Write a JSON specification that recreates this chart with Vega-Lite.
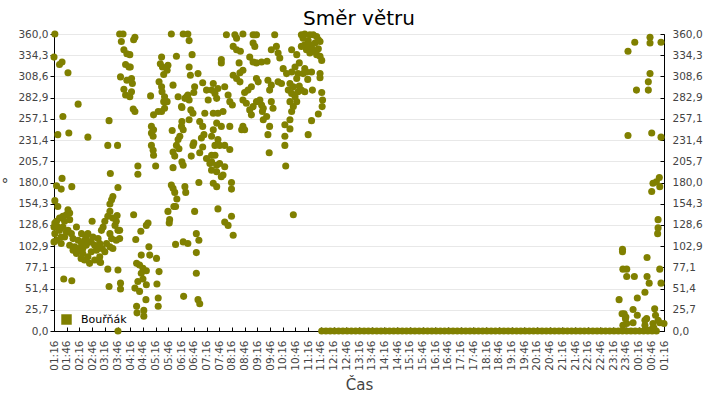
{
"$schema": "https://vega.github.io/schema/vega-lite/v6.json",
"width": 610, "height": 297,
"autosize": "none",
"padding": {"left": 54, "top": 34, "right": 56, "bottom": 69},
"background": "white",
"title": {"text": "Směr větru", "font": "DejaVu Sans", "fontSize": 20, "fontWeight": "normal", "color": "#000", "anchor": "middle", "frame": "group", "offset": 0},
"config": {"view": {"stroke": "#000", "strokeWidth": 1}, "axis": {"labelOverlap": false}},
"data": {"values": [
{"t":"2024-06-01T01:16","v":332},{"t":"2024-06-01T01:18","v":360},{"t":"2024-06-01T01:29","v":323},{"t":"2024-06-01T01:35","v":326},{"t":"2024-06-01T01:49","v":313},{"t":"2024-06-01T02:13","v":275},{"t":"2024-06-01T01:37","v":260},{"t":"2024-06-01T01:25","v":238},{"t":"2024-06-01T01:51","v":240},{"t":"2024-06-01T02:36","v":235},{"t":"2024-06-01T03:26","v":255},{"t":"2024-06-01T03:23","v":225},{"t":"2024-06-01T03:46","v":225},{"t":"2024-06-01T01:35","v":185},{"t":"2024-06-01T01:22","v":176},{"t":"2024-06-01T01:33","v":172},{"t":"2024-06-01T01:58","v":175},{"t":"2024-06-01T03:29","v":191},{"t":"2024-06-01T03:47","v":174},{"t":"2024-06-01T03:35","v":163},{"t":"2024-06-01T03:32","v":159},{"t":"2024-06-01T03:28","v":154},{"t":"2024-06-01T01:18","v":158},{"t":"2024-06-01T01:25","v":151},{"t":"2024-06-01T01:39","v":63},{"t":"2024-06-01T01:58","v":61},{"t":"2024-06-01T03:23","v":75},{"t":"2024-06-01T03:47","v":74},{"t":"2024-06-01T03:26","v":54},{"t":"2024-06-01T03:53","v":58},{"t":"2024-06-01T03:53","v":51},{"t":"2024-06-01T03:47","v":0},{"t":"2024-06-01T03:06","v":83},{"t":"2024-06-01T02:46","v":133},{"t":"2024-06-01T03:51","v":360},{"t":"2024-06-01T03:59","v":360},{"t":"2024-06-01T03:55","v":351},{"t":"2024-06-01T04:01","v":341},{"t":"2024-06-01T04:08","v":336},{"t":"2024-06-01T04:05","v":323},{"t":"2024-06-01T04:13","v":320},{"t":"2024-06-01T03:53","v":308},{"t":"2024-06-01T04:08","v":304},{"t":"2024-06-01T04:01","v":293},{"t":"2024-06-01T04:05","v":286},
{"t":"2024-06-01T01:49","v":147},{"t":"2024-06-01T01:53","v":143},{"t":"2024-06-01T01:45","v":141},{"t":"2024-06-01T01:37","v":139},{"t":"2024-06-01T01:29","v":137},{"t":"2024-06-01T01:22","v":133},{"t":"2024-06-01T01:18","v":131},{"t":"2024-06-01T01:25","v":126},{"t":"2024-06-01T01:41","v":133},{"t":"2024-06-01T01:53","v":135},{"t":"2024-06-01T01:37","v":126},{"t":"2024-06-01T01:29","v":122},{"t":"2024-06-01T01:18","v":118},{"t":"2024-06-01T01:22","v":110},{"t":"2024-06-01T01:33","v":106},{"t":"2024-06-01T01:41","v":114},{"t":"2024-06-01T01:49","v":122},{"t":"2024-06-01T01:57","v":118},{"t":"2024-06-01T02:01","v":112},{"t":"2024-06-01T02:09","v":126},{"t":"2024-06-01T02:13","v":110},{"t":"2024-06-01T02:21","v":106},{"t":"2024-06-01T02:05","v":102},{"t":"2024-06-01T02:17","v":98},{"t":"2024-06-01T02:24","v":100},{"t":"2024-06-01T02:32","v":104},{"t":"2024-06-01T02:40","v":108},{"t":"2024-06-01T02:36","v":118},{"t":"2024-06-01T02:48","v":114},{"t":"2024-06-01T03:00","v":112},{"t":"2024-06-01T03:04","v":106},{"t":"2024-06-01T02:56","v":98},{"t":"2024-06-01T02:44","v":96},{"t":"2024-06-01T02:36","v":90},{"t":"2024-06-01T02:28","v":86},{"t":"2024-06-01T02:40","v":82},{"t":"2024-06-01T03:08","v":122},{"t":"2024-06-01T03:12","v":126},{"t":"2024-06-01T03:16","v":133},{"t":"2024-06-01T03:23","v":139},{"t":"2024-06-01T03:28","v":118},{"t":"2024-06-01T03:32","v":112},{"t":"2024-06-01T03:20","v":106},{"t":"2024-06-01T03:28","v":102},{"t":"2024-06-01T03:35","v":100},{"t":"2024-06-01T03:43","v":110},{"t":"2024-06-01T03:47","v":122},{"t":"2024-06-01T03:51","v":112},{"t":"2024-06-01T03:16","v":96},{"t":"2024-06-01T03:04","v":90},{"t":"2024-06-01T02:52","v":86},{"t":"2024-06-01T02:24","v":94},{"t":"2024-06-01T02:09","v":94},{"t":"2024-06-01T02:01","v":98},{"t":"2024-06-01T01:53","v":104},{"t":"2024-06-01T01:33","v":114},{"t":"2024-06-01T01:16","v":126},{"t":"2024-06-01T01:16","v":108},{"t":"2024-06-01T02:21","v":118},{"t":"2024-06-01T02:32","v":114},{"t":"2024-06-01T02:13","v":100},{"t":"2024-06-01T02:28","v":110},{"t":"2024-06-01T02:52","v":104},{"t":"2024-06-01T03:00","v":100},{"t":"2024-06-01T02:44","v":108},{"t":"2024-06-01T02:20","v":88},{"t":"2024-06-01T03:10","v":100},{"t":"2024-06-01T03:40","v":128},{"t":"2024-06-01T03:45","v":140},{"t":"2024-06-01T01:45","v":120},{"t":"2024-06-01T03:28","v":145},{"t":"2024-06-01T03:35","v":137},{"t":"2024-06-01T03:43","v":133},{"t":"2024-06-01T03:51","v":122},{"t":"2024-06-01T03:04","v":84},
{"t":"2024-06-01T04:27","v":356},{"t":"2024-06-01T04:24","v":353},{"t":"2024-06-01T05:53","v":360},{"t":"2024-06-01T06:21","v":360},{"t":"2024-06-01T06:32","v":360},{"t":"2024-06-01T06:35","v":352},{"t":"2024-06-01T04:15","v":335},{"t":"2024-06-01T04:16","v":320},{"t":"2024-06-01T04:19","v":306},{"t":"2024-06-01T04:21","v":300},{"t":"2024-06-01T04:19","v":290},{"t":"2024-06-01T04:15","v":284},{"t":"2024-06-01T04:23","v":269},{"t":"2024-06-01T04:27","v":266},{"t":"2024-06-01T05:30","v":332},{"t":"2024-06-01T05:27","v":324},{"t":"2024-06-01T05:32","v":320},{"t":"2024-06-01T05:45","v":322},{"t":"2024-06-01T05:43","v":316},{"t":"2024-06-01T05:35","v":311},{"t":"2024-06-01T05:24","v":302},{"t":"2024-06-01T05:30","v":296},{"t":"2024-06-01T05:31","v":290},{"t":"2024-06-01T05:37","v":284},{"t":"2024-06-01T05:35","v":278},{"t":"2024-06-01T05:43","v":278},{"t":"2024-06-01T05:37","v":270},{"t":"2024-06-01T05:30","v":266},{"t":"2024-06-01T05:22","v":266},{"t":"2024-06-01T05:11","v":262},{"t":"2024-06-01T05:04","v":285},{"t":"2024-06-01T06:05","v":333},{"t":"2024-06-01T06:42","v":335},{"t":"2024-06-01T06:35","v":320},{"t":"2024-06-01T06:38","v":310},{"t":"2024-06-01T06:56","v":312},{"t":"2024-06-01T07:07","v":301},{"t":"2024-06-01T06:48","v":296},{"t":"2024-06-01T06:46","v":289},{"t":"2024-06-01T05:57","v":298},{"t":"2024-06-01T06:09","v":284},{"t":"2024-06-01T06:29","v":284},{"t":"2024-06-01T06:35","v":280},{"t":"2024-06-01T06:25","v":282},{"t":"2024-06-01T06:32","v":286},{"t":"2024-06-01T06:18","v":271},{"t":"2024-06-01T06:39","v":268},{"t":"2024-06-01T06:44","v":264},{"t":"2024-06-01T06:35","v":256},{"t":"2024-06-01T07:16","v":292},{"t":"2024-06-01T07:20","v":280},{"t":"2024-06-01T07:12","v":264},{"t":"2024-06-01T07:00","v":254},{"t":"2024-06-01T07:07","v":248},{"t":"2024-06-01T07:10","v":238},{"t":"2024-06-01T07:04","v":234},{"t":"2024-06-01T05:06","v":248},{"t":"2024-06-01T05:11","v":244},{"t":"2024-06-01T05:10","v":236},{"t":"2024-06-01T05:06","v":240},{"t":"2024-06-01T05:55","v":243},{"t":"2024-06-01T06:17","v":248},{"t":"2024-06-01T06:21","v":244},{"t":"2024-06-01T06:13","v":236},{"t":"2024-06-01T06:17","v":272},{"t":"2024-06-01T06:18","v":254},{"t":"2024-06-01T06:46","v":228},{"t":"2024-06-01T06:44","v":225},{"t":"2024-06-01T07:07","v":223},{"t":"2024-06-01T06:09","v":232},{"t":"2024-06-01T06:05","v":225},{"t":"2024-06-01T06:11","v":221},{"t":"2024-06-01T05:57","v":217},{"t":"2024-06-01T06:01","v":212},{"t":"2024-06-01T05:06","v":225},{"t":"2024-06-01T05:10","v":219},{"t":"2024-06-01T05:11","v":213},{"t":"2024-06-01T06:40","v":212},{"t":"2024-06-01T06:18","v":205},{"t":"2024-06-01T06:21","v":201},{"t":"2024-06-01T07:00","v":216},{"t":"2024-06-01T07:16","v":209},{"t":"2024-06-01T07:24","v":203},{"t":"2024-06-01T04:34","v":200},{"t":"2024-06-01T04:34","v":190},{"t":"2024-06-01T05:16","v":200},{"t":"2024-06-01T05:57","v":198},{"t":"2024-06-01T06:58","v":180},{"t":"2024-06-01T05:53","v":177},{"t":"2024-06-01T05:57","v":173},{"t":"2024-06-01T06:01","v":168},{"t":"2024-06-01T06:25","v":175},{"t":"2024-06-01T06:27","v":168},{"t":"2024-06-01T06:06","v":160},{"t":"2024-06-01T05:59","v":151},{"t":"2024-06-01T06:03","v":151},{"t":"2024-06-01T05:45","v":145},{"t":"2024-06-01T05:49","v":135},{"t":"2024-06-01T05:48","v":131},{"t":"2024-06-01T06:48","v":145},{"t":"2024-06-01T04:24","v":141},{"t":"2024-06-01T04:58","v":131},{"t":"2024-06-01T04:54","v":128},{"t":"2024-06-01T04:41","v":121},{"t":"2024-06-01T04:29","v":111},{"t":"2024-06-01T06:03","v":105},{"t":"2024-06-01T06:21","v":108},{"t":"2024-06-01T06:32","v":106},{"t":"2024-06-01T06:52","v":118},{"t":"2024-06-01T06:58","v":110},{"t":"2024-06-01T05:00","v":102},{"t":"2024-06-01T05:02","v":92},{"t":"2024-06-01T05:18","v":88},{"t":"2024-06-01T04:42","v":92},{"t":"2024-06-01T04:31","v":82},{"t":"2024-06-01T04:38","v":80},{"t":"2024-06-01T04:46","v":76},{"t":"2024-06-01T04:54","v":73},{"t":"2024-06-01T04:42","v":70},{"t":"2024-06-01T04:46","v":63},{"t":"2024-06-01T04:34","v":60},{"t":"2024-06-01T04:54","v":56},{"t":"2024-06-01T04:27","v":52},{"t":"2024-06-01T04:38","v":48},{"t":"2024-06-01T05:24","v":72},{"t":"2024-06-01T05:19","v":57},{"t":"2024-06-01T06:52","v":95},{"t":"2024-06-01T06:52","v":70},{"t":"2024-06-01T06:56","v":38},{"t":"2024-06-01T07:00","v":33},{"t":"2024-06-01T06:22","v":42},{"t":"2024-06-01T05:22","v":40},{"t":"2024-06-01T05:22","v":30},{"t":"2024-06-01T04:53","v":38},{"t":"2024-06-01T04:31","v":30},{"t":"2024-06-01T04:32","v":22},{"t":"2024-06-01T04:48","v":25},{"t":"2024-06-01T04:48","v":18},
{"t":"2024-06-01T08:03","v":359},{"t":"2024-06-01T08:23","v":359},{"t":"2024-06-01T08:42","v":360},{"t":"2024-06-01T09:06","v":359},{"t":"2024-06-01T09:14","v":359},{"t":"2024-06-01T09:57","v":359},{"t":"2024-06-01T08:27","v":355},{"t":"2024-06-01T08:19","v":345},{"t":"2024-06-01T08:27","v":341},{"t":"2024-06-01T08:36","v":339},{"t":"2024-06-01T09:06","v":349},{"t":"2024-06-01T09:10","v":345},{"t":"2024-06-01T07:51","v":329},{"t":"2024-06-01T07:51","v":325},{"t":"2024-06-01T08:33","v":325},{"t":"2024-06-01T08:58","v":332},{"t":"2024-06-01T09:06","v":326},{"t":"2024-06-01T09:14","v":325},{"t":"2024-06-01T09:26","v":326},{"t":"2024-06-01T09:39","v":327},{"t":"2024-06-01T09:49","v":341},{"t":"2024-06-01T10:01","v":345},{"t":"2024-06-01T10:05","v":337},{"t":"2024-06-01T10:09","v":331},{"t":"2024-06-01T10:17","v":318},{"t":"2024-06-01T10:25","v":312},{"t":"2024-06-01T10:29","v":292},{"t":"2024-06-01T10:13","v":300},{"t":"2024-06-01T10:05","v":302},{"t":"2024-06-01T08:42","v":316},{"t":"2024-06-01T08:35","v":313},{"t":"2024-06-01T08:19","v":310},{"t":"2024-06-01T08:27","v":306},{"t":"2024-06-01T08:35","v":302},{"t":"2024-06-01T09:14","v":306},{"t":"2024-06-01T09:18","v":302},{"t":"2024-06-01T09:02","v":296},{"t":"2024-06-01T08:54","v":292},{"t":"2024-06-01T08:46","v":289},{"t":"2024-06-01T09:41","v":304},{"t":"2024-06-01T09:49","v":298},{"t":"2024-06-01T09:45","v":292},{"t":"2024-06-01T07:32","v":300},{"t":"2024-06-01T07:28","v":292},{"t":"2024-06-01T07:36","v":288},{"t":"2024-06-01T07:40","v":282},{"t":"2024-06-01T07:43","v":294},{"t":"2024-06-01T07:59","v":296},{"t":"2024-06-01T08:07","v":286},{"t":"2024-06-01T08:11","v":278},{"t":"2024-06-01T08:17","v":274},{"t":"2024-06-01T08:42","v":280},{"t":"2024-06-01T08:50","v":276},{"t":"2024-06-01T08:58","v":268},{"t":"2024-06-01T09:02","v":262},{"t":"2024-06-01T09:06","v":272},{"t":"2024-06-01T09:14","v":278},{"t":"2024-06-01T09:22","v":280},{"t":"2024-06-01T09:26","v":274},{"t":"2024-06-01T09:28","v":266},{"t":"2024-06-01T09:30","v":270},{"t":"2024-06-01T09:38","v":260},{"t":"2024-06-01T09:49","v":278},{"t":"2024-06-01T09:53","v":270},{"t":"2024-06-01T09:30","v":256},{"t":"2024-06-01T09:45","v":248},{"t":"2024-06-01T08:42","v":248},{"t":"2024-06-01T08:39","v":244},{"t":"2024-06-01T08:46","v":244},{"t":"2024-06-01T09:41","v":238},{"t":"2024-06-01T09:44","v":216},{"t":"2024-06-01T07:32","v":264},{"t":"2024-06-01T07:43","v":264},{"t":"2024-06-01T07:55","v":266},{"t":"2024-06-01T07:40","v":252},{"t":"2024-06-01T07:51","v":248},{"t":"2024-06-01T08:11","v":248},{"t":"2024-06-01T07:32","v":244},{"t":"2024-06-01T07:28","v":236},{"t":"2024-06-01T07:43","v":232},{"t":"2024-06-01T07:36","v":225},{"t":"2024-06-01T07:47","v":225},{"t":"2024-06-01T07:59","v":225},{"t":"2024-06-01T08:11","v":220},{"t":"2024-06-01T07:28","v":213},{"t":"2024-06-01T07:36","v":213},{"t":"2024-06-01T07:28","v":205},{"t":"2024-06-01T07:40","v":201},{"t":"2024-06-01T07:47","v":203},{"t":"2024-06-01T07:59","v":199},{"t":"2024-06-01T07:55","v":189},{"t":"2024-06-01T07:28","v":195},{"t":"2024-06-01T07:40","v":193},{"t":"2024-06-01T07:51","v":187},{"t":"2024-06-01T07:32","v":179},{"t":"2024-06-01T07:40","v":175},{"t":"2024-06-01T08:15","v":180},{"t":"2024-06-01T08:15","v":172},{"t":"2024-06-01T07:43","v":148},{"t":"2024-06-01T07:59","v":132},{"t":"2024-06-01T08:07","v":128},{"t":"2024-06-01T08:15","v":139},{"t":"2024-06-01T08:19","v":116},{"t":"2024-06-01T10:21","v":250},{"t":"2024-06-01T10:21","v":236},{"t":"2024-06-01T10:21","v":225},{"t":"2024-06-01T10:23","v":200},
{"t":"2024-06-01T11:00","v":359},{"t":"2024-06-01T11:08","v":360},{"t":"2024-06-01T11:20","v":359},{"t":"2024-06-01T11:28","v":359},{"t":"2024-06-01T11:36","v":357},{"t":"2024-06-01T11:40","v":353},{"t":"2024-06-01T11:32","v":349},{"t":"2024-06-01T11:20","v":347},{"t":"2024-06-01T11:08","v":347},{"t":"2024-06-01T11:00","v":345},{"t":"2024-06-01T11:44","v":351},{"t":"2024-06-01T11:28","v":339},{"t":"2024-06-01T11:36","v":335},{"t":"2024-06-01T11:44","v":333},{"t":"2024-06-01T11:48","v":328},{"t":"2024-06-01T11:20","v":337},{"t":"2024-06-01T10:37","v":341},{"t":"2024-06-01T10:49","v":335},{"t":"2024-06-01T10:55","v":325},{"t":"2024-06-01T11:08","v":318},{"t":"2024-06-01T11:12","v":314},{"t":"2024-06-01T11:24","v":314},{"t":"2024-06-01T11:04","v":312},{"t":"2024-06-01T10:37","v":314},{"t":"2024-06-01T10:52","v":312},{"t":"2024-06-01T10:49","v":306},{"t":"2024-06-01T11:15","v":305},{"t":"2024-06-01T11:44","v":312},{"t":"2024-06-01T11:44","v":307},{"t":"2024-06-01T10:33","v":300},{"t":"2024-06-01T10:41","v":296},{"t":"2024-06-01T10:37","v":288},{"t":"2024-06-01T10:45","v":284},{"t":"2024-06-01T10:52","v":290},{"t":"2024-06-01T11:00","v":292},{"t":"2024-06-01T11:08","v":290},{"t":"2024-06-01T10:49","v":278},{"t":"2024-06-01T10:41","v":272},{"t":"2024-06-01T10:37","v":266},{"t":"2024-06-01T10:33","v":278},{"t":"2024-06-01T11:26","v":292},{"t":"2024-06-01T11:48","v":289},{"t":"2024-06-01T11:50","v":280},{"t":"2024-06-01T11:49","v":272},{"t":"2024-06-01T11:40","v":263},{"t":"2024-06-01T10:33","v":256},{"t":"2024-06-01T10:33","v":245},{"t":"2024-06-01T11:24","v":255},{"t":"2024-06-01T11:16","v":238},{"t":"2024-06-01T10:41","v":141},{"t":"2024-06-01T11:04","v":355},{"t":"2024-06-01T11:16","v":352},{"t":"2024-06-01T11:24","v":344},{"t":"2024-06-01T11:12","v":341},{"t":"2024-06-01T11:40","v":342},{"t":"2024-06-01T10:45","v":320},{"t":"2024-06-01T10:55","v":297},
{"t":"2024-06-01T23:51","v":339},{"t":"2024-06-02T00:43","v":356},{"t":"2024-06-02T00:43","v":349},{"t":"2024-06-02T00:07","v":350},{"t":"2024-06-02T01:09","v":350},{"t":"2024-06-02T00:43","v":312},{"t":"2024-06-02T00:39","v":302},{"t":"2024-06-02T00:11","v":292},{"t":"2024-06-02T00:39","v":292},{"t":"2024-06-01T23:51","v":237},{"t":"2024-06-02T00:47","v":240},{"t":"2024-06-02T01:09","v":235},{"t":"2024-06-02T01:05","v":186},{"t":"2024-06-02T00:50","v":179},{"t":"2024-06-02T01:06","v":175},{"t":"2024-06-02T00:47","v":169},{"t":"2024-06-02T00:58","v":181},{"t":"2024-06-02T01:02","v":135},{"t":"2024-06-02T01:02","v":125},{"t":"2024-06-02T01:01","v":118},{"t":"2024-06-01T23:38","v":99},{"t":"2024-06-01T23:38","v":96},{"t":"2024-06-02T00:36","v":89},{"t":"2024-06-01T23:39","v":75},{"t":"2024-06-01T23:48","v":75},{"t":"2024-06-01T23:48","v":66},{"t":"2024-06-02T00:06","v":66},{"t":"2024-06-02T00:36","v":66},{"t":"2024-06-02T00:41","v":58},{"t":"2024-06-02T01:06","v":75},{"t":"2024-06-02T01:09","v":58},{"t":"2024-06-02T00:31","v":47},{"t":"2024-06-02T00:13","v":40},{"t":"2024-06-01T23:30","v":38},{"t":"2024-06-02T00:03","v":26},{"t":"2024-06-01T23:37","v":21},{"t":"2024-06-01T23:46","v":17},{"t":"2024-06-02T00:13","v":19},{"t":"2024-06-02T00:54","v":27},{"t":"2024-06-02T00:56","v":19},{"t":"2024-06-01T23:39","v":7},{"t":"2024-06-01T23:48","v":9},{"t":"2024-06-02T00:03","v":10},{"t":"2024-06-02T00:31","v":13},{"t":"2024-06-02T00:50","v":9},{"t":"2024-06-02T01:06","v":10},{"t":"2024-06-02T01:16","v":9},{"t":"2024-06-02T00:47","v":2},{"t":"2024-06-02T00:39","v":1},{"t":"2024-06-01T23:42","v":21},{"t":"2024-06-01T23:45","v":15},{"t":"2024-06-02T00:31","v":7},{"t":"2024-06-02T00:35","v":15},{"t":"2024-06-02T01:02","v":13},{"t":"2024-06-02T00:52","v":4},
{"t":"2024-06-01T11:48","v":0},{"t":"2024-06-01T11:58","v":0},{"t":"2024-06-01T12:08","v":0},{"t":"2024-06-01T12:18","v":0},{"t":"2024-06-01T12:28","v":0},{"t":"2024-06-01T12:38","v":0},{"t":"2024-06-01T12:48","v":0},{"t":"2024-06-01T12:58","v":0},{"t":"2024-06-01T13:08","v":0},{"t":"2024-06-01T13:18","v":0},{"t":"2024-06-01T13:28","v":0},{"t":"2024-06-01T13:38","v":0},{"t":"2024-06-01T13:48","v":0},{"t":"2024-06-01T13:58","v":0},{"t":"2024-06-01T14:08","v":0},{"t":"2024-06-01T14:18","v":0},{"t":"2024-06-01T14:28","v":0},{"t":"2024-06-01T14:38","v":0},{"t":"2024-06-01T14:48","v":0},{"t":"2024-06-01T14:58","v":0},{"t":"2024-06-01T15:08","v":0},{"t":"2024-06-01T15:18","v":0},{"t":"2024-06-01T15:28","v":0},{"t":"2024-06-01T15:38","v":0},{"t":"2024-06-01T15:48","v":0},{"t":"2024-06-01T15:58","v":0},{"t":"2024-06-01T16:08","v":0},{"t":"2024-06-01T16:18","v":0},{"t":"2024-06-01T16:28","v":0},{"t":"2024-06-01T16:38","v":0},{"t":"2024-06-01T16:48","v":0},{"t":"2024-06-01T16:58","v":0},{"t":"2024-06-01T17:08","v":0},{"t":"2024-06-01T17:18","v":0},{"t":"2024-06-01T17:28","v":0},{"t":"2024-06-01T17:38","v":0},{"t":"2024-06-01T17:48","v":0},{"t":"2024-06-01T17:58","v":0},{"t":"2024-06-01T18:08","v":0},{"t":"2024-06-01T18:18","v":0},{"t":"2024-06-01T18:28","v":0},{"t":"2024-06-01T18:38","v":0},{"t":"2024-06-01T18:48","v":0},{"t":"2024-06-01T18:58","v":0},{"t":"2024-06-01T19:08","v":0},{"t":"2024-06-01T19:18","v":0},{"t":"2024-06-01T19:28","v":0},{"t":"2024-06-01T19:38","v":0},{"t":"2024-06-01T19:48","v":0},{"t":"2024-06-01T19:58","v":0},{"t":"2024-06-01T20:08","v":0},{"t":"2024-06-01T20:18","v":0},{"t":"2024-06-01T20:28","v":0},{"t":"2024-06-01T20:38","v":0},{"t":"2024-06-01T20:48","v":0},{"t":"2024-06-01T20:58","v":0},{"t":"2024-06-01T21:08","v":0},{"t":"2024-06-01T21:18","v":0},{"t":"2024-06-01T21:28","v":0},{"t":"2024-06-01T21:38","v":0},{"t":"2024-06-01T21:48","v":0},{"t":"2024-06-01T21:58","v":0},{"t":"2024-06-01T22:08","v":0},{"t":"2024-06-01T22:18","v":0},{"t":"2024-06-01T22:28","v":0},{"t":"2024-06-01T22:38","v":0},{"t":"2024-06-01T22:48","v":0},{"t":"2024-06-01T22:58","v":0},{"t":"2024-06-01T23:08","v":0},{"t":"2024-06-01T23:18","v":0},{"t":"2024-06-01T23:28","v":0},{"t":"2024-06-01T23:38","v":0},{"t":"2024-06-01T23:48","v":0},{"t":"2024-06-01T23:58","v":0},{"t":"2024-06-02T00:08","v":0},{"t":"2024-06-02T00:18","v":0},{"t":"2024-06-02T00:28","v":0},{"t":"2024-06-02T00:38","v":0},{"t":"2024-06-02T00:48","v":0},{"t":"2024-06-02T00:58","v":0}
]},
"layer": [
{"mark": {"type": "circle", "size": 50, "opacity": 1},
 "encoding": {
  "x": {"field": "t", "type": "temporal",
   "scale": {"domain": [{"year":2024,"month":6,"date":1,"hours":1,"minutes":16},{"year":2024,"month":6,"date":2,"hours":1,"minutes":16}], "nice": false},
   "axis": {"values": [
{"year":2024,"month":6,"date":1,"hours":1,"minutes":16},{"year":2024,"month":6,"date":1,"hours":1,"minutes":46},
{"year":2024,"month":6,"date":1,"hours":2,"minutes":16},{"year":2024,"month":6,"date":1,"hours":2,"minutes":46},
{"year":2024,"month":6,"date":1,"hours":3,"minutes":16},{"year":2024,"month":6,"date":1,"hours":3,"minutes":46},
{"year":2024,"month":6,"date":1,"hours":4,"minutes":16},{"year":2024,"month":6,"date":1,"hours":4,"minutes":46},
{"year":2024,"month":6,"date":1,"hours":5,"minutes":16},{"year":2024,"month":6,"date":1,"hours":5,"minutes":46},
{"year":2024,"month":6,"date":1,"hours":6,"minutes":16},{"year":2024,"month":6,"date":1,"hours":6,"minutes":46},
{"year":2024,"month":6,"date":1,"hours":7,"minutes":16},{"year":2024,"month":6,"date":1,"hours":7,"minutes":46},
{"year":2024,"month":6,"date":1,"hours":8,"minutes":16},{"year":2024,"month":6,"date":1,"hours":8,"minutes":46},
{"year":2024,"month":6,"date":1,"hours":9,"minutes":16},{"year":2024,"month":6,"date":1,"hours":9,"minutes":46},
{"year":2024,"month":6,"date":1,"hours":10,"minutes":16},{"year":2024,"month":6,"date":1,"hours":10,"minutes":46},
{"year":2024,"month":6,"date":1,"hours":11,"minutes":16},{"year":2024,"month":6,"date":1,"hours":11,"minutes":46},
{"year":2024,"month":6,"date":1,"hours":12,"minutes":16},{"year":2024,"month":6,"date":1,"hours":12,"minutes":46},
{"year":2024,"month":6,"date":1,"hours":13,"minutes":16},{"year":2024,"month":6,"date":1,"hours":13,"minutes":46},
{"year":2024,"month":6,"date":1,"hours":14,"minutes":16},{"year":2024,"month":6,"date":1,"hours":14,"minutes":46},
{"year":2024,"month":6,"date":1,"hours":15,"minutes":16},{"year":2024,"month":6,"date":1,"hours":15,"minutes":46},
{"year":2024,"month":6,"date":1,"hours":16,"minutes":16},{"year":2024,"month":6,"date":1,"hours":16,"minutes":46},
{"year":2024,"month":6,"date":1,"hours":17,"minutes":16},{"year":2024,"month":6,"date":1,"hours":17,"minutes":46},
{"year":2024,"month":6,"date":1,"hours":18,"minutes":16},{"year":2024,"month":6,"date":1,"hours":18,"minutes":46},
{"year":2024,"month":6,"date":1,"hours":19,"minutes":16},{"year":2024,"month":6,"date":1,"hours":19,"minutes":46},
{"year":2024,"month":6,"date":1,"hours":20,"minutes":16},{"year":2024,"month":6,"date":1,"hours":20,"minutes":46},
{"year":2024,"month":6,"date":1,"hours":21,"minutes":16},{"year":2024,"month":6,"date":1,"hours":21,"minutes":46},
{"year":2024,"month":6,"date":1,"hours":22,"minutes":16},{"year":2024,"month":6,"date":1,"hours":22,"minutes":46},
{"year":2024,"month":6,"date":1,"hours":23,"minutes":16},{"year":2024,"month":6,"date":1,"hours":23,"minutes":46},
{"year":2024,"month":6,"date":2,"hours":0,"minutes":16},{"year":2024,"month":6,"date":2,"hours":0,"minutes":46},
{"year":2024,"month":6,"date":2,"hours":1,"minutes":16}],
    "tickCount": 200,
    "format": "%H:%M", "labelAngle": 270, "labelFont": "DejaVu Sans", "labelFontSize": 10.5, "labelColor": "#444",
    "labelPadding": 13, "labelOverlap": false, "labelFlush": false, "labelBound": false,
    "tickSize": -4, "tickColor": "#000", "domainColor": "#000", "grid": false,
    "title": "Čas", "titleFont": "DejaVu Sans", "titleFontSize": 15, "titleFontWeight": "normal", "titleColor": "#444", "titlePadding": 7}},
  "y": {"field": "v", "type": "quantitative",
   "scale": {"domain": [0, 360], "nice": false, "zero": false},
   "axis": {"values": [0, 25.7142857, 51.4285714, 77.1428571, 102.857143, 128.571429, 154.285714, 180, 205.714286, 231.428571, 257.142857, 282.857143, 308.571429, 334.285714, 360],
    "tickCount": 100,
    "labelExpr": "replace(format(datum.value, '.1f'), '.', ',')",
    "labelFont": "DejaVu Sans", "labelFontSize": 10.5, "labelColor": "#444", "labelPadding": 2, "labelOverlap": false, "labelFlush": false, "labelBound": false,
    "tickSize": 4, "tickColor": "#000", "domainColor": "#000",
    "grid": true, "gridColor": "#e8e8e8",
    "title": "°", "titleAngle": 0, "titleX": -53, "titleY": 150, "titleAlign": "left", "titleBaseline": "middle",
    "titleFont": "DejaVu Sans", "titleFontSize": 14, "titleFontWeight": "normal", "titleColor": "#444"}},
  "color": {"datum": "Bouřňák", "scale": {"range": ["#808000"]},
   "legend": {"orient": "none", "legendX": 7, "legendY": 280, "title": null, "symbolType": "square", "symbolSize": 110, "symbolOpacity": 1, "symbolStrokeWidth": 0,
    "labelFont": "DejaVu Sans", "labelFontSize": 11, "labelColor": "#000", "labelOffset": 9, "padding": 0}}
 }},
{"mark": {"type": "circle", "opacity": 0},
 "encoding": {
  "x": {"field": "t", "type": "temporal"},
  "y": {"field": "v", "type": "quantitative",
   "scale": {"domain": [0, 360], "nice": false, "zero": false},
   "axis": {"orient": "right", "values": [0, 25.7142857, 51.4285714, 77.1428571, 102.857143, 128.571429, 154.285714, 180, 205.714286, 231.428571, 257.142857, 282.857143, 308.571429, 334.285714, 360],
    "tickCount": 100,
    "labelExpr": "replace(format(datum.value, '.1f'), '.', ',')",
    "labelFont": "DejaVu Sans", "labelFontSize": 10.5, "labelColor": "#444", "labelPadding": 12, "labelOverlap": false, "labelFlush": false, "labelBound": false,
    "tickSize": -4, "tickColor": "#000", "domainColor": "#000", "grid": false, "title": null}}
 }}
],
"resolve": {"scale": {"y": "independent"}}
}
